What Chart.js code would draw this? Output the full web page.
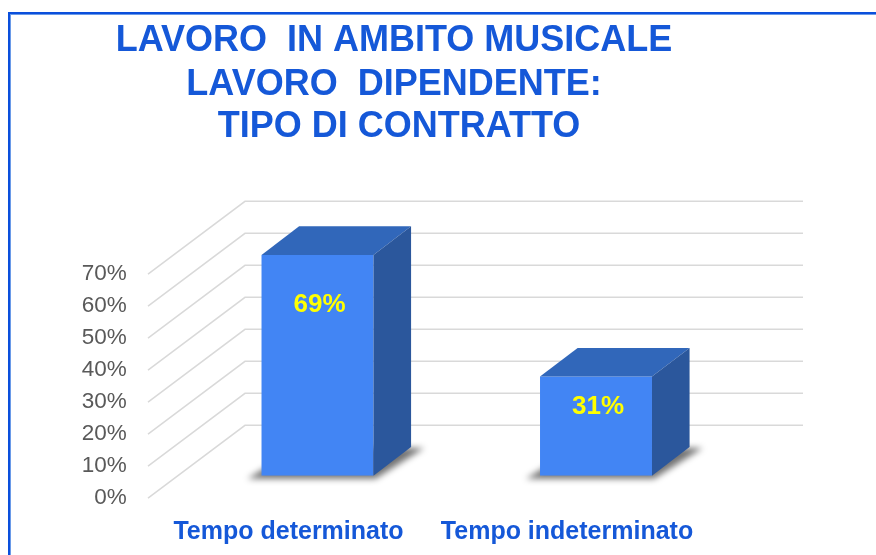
<!DOCTYPE html>
<html>
<head>
<meta charset="utf-8">
<script src="https://cdn.jsdelivr.net/npm/chart.js@4/dist/chart.umd.min.js"></script>
<style>
html,body{margin:0;padding:0;background:#ffffff;}
#wrap{position:relative;width:876px;height:555px;overflow:hidden;background:#ffffff;}
#frame{position:absolute;left:8px;top:12px;width:900px;height:600px;border-top:2px solid #0a4fdc;border-left:2px solid #0a4fdc;box-shadow:inset 1px 1px 0 #6a9ae8;}
#c{position:absolute;left:0;top:0;}
</style>
</head>
<body>
<div id="wrap"><div id="frame"></div><canvas id="c" width="876" height="555"></canvas></div>
<script>
// ---- data ----
const titleLines = ['LAVORO  IN AMBITO MUSICALE', 'LAVORO  DIPENDENTE:', ' TIPO DI CONTRATTO'];
const categories = ['Tempo determinato', 'Tempo indeterminato'];
const values = [69, 31];
const yTicks = [0, 10, 20, 30, 40, 50, 60, 70];

// ---- style ----
const FONT = '"Liberation Sans", Arial, Helvetica, sans-serif';
const BLUE_TEXT = '#1558d8';
const FRONT_COL = '#4285f4';
const TOP_COL = '#3167ba';
const SIDE_COL = '#2b579c';
const GRID_COL = '#d9d9d9';
const DEPTH = {dx: 37.6, dy: -28.6};      // bar depth
const WALL = {front: 148, back0: 245, back1: 803, frontDy: 22.5, backDy: -50.4};
const LABEL_BASE_DY = [57, 37.5];

const threeD = {
  id: 'threeD',
  beforeDatasetsDraw(chart) {
    const ctx = chart.ctx;
    const ys = chart.scales.y;
    ctx.save();
    ctx.strokeStyle = GRID_COL;
    ctx.lineWidth = 1.5;
    yTicks.forEach(v => {
      const p = ys.getPixelForValue(v);
      ctx.beginPath();
      ctx.moveTo(WALL.front, p + WALL.frontDy);
      ctx.lineTo(WALL.back0, p + WALL.backDy);
      ctx.lineTo(WALL.back1, p + WALL.backDy);
      ctx.stroke();
    });
    // shadows
    const meta = chart.getDatasetMeta(0);
    meta.data.forEach(bar => {
      const L = bar.x - bar.width / 2, R = bar.x + bar.width / 2, b = bar.base;
      ctx.save();
      ctx.filter = 'blur(3px)';
      ctx.fillStyle = 'rgba(0,0,0,0.55)';
      ctx.beginPath();
      ctx.moveTo(L - 14, b + 3);
      ctx.lineTo(R + 2, b + 3);
      ctx.lineTo(R + DEPTH.dx + 13, b + DEPTH.dy + 1);
      ctx.lineTo(L + DEPTH.dx, b + DEPTH.dy);
      ctx.closePath();
      ctx.fill();
      ctx.restore();
    });
    ctx.restore();
  },
  afterDatasetsDraw(chart) {
    const ctx = chart.ctx;
    const meta = chart.getDatasetMeta(0);
    ctx.save();
    meta.data.forEach((bar, i) => {
      const L = bar.x - bar.width / 2, R = bar.x + bar.width / 2, t = bar.y, b = bar.base;
      // top face
      ctx.fillStyle = TOP_COL;
      ctx.beginPath();
      ctx.moveTo(L, t);
      ctx.lineTo(L + DEPTH.dx, t + DEPTH.dy);
      ctx.lineTo(R + DEPTH.dx, t + DEPTH.dy);
      ctx.lineTo(R, t);
      ctx.closePath();
      ctx.fill();
      // side face
      ctx.fillStyle = SIDE_COL;
      ctx.beginPath();
      ctx.moveTo(R, t);
      ctx.lineTo(R + DEPTH.dx, t + DEPTH.dy);
      ctx.lineTo(R + DEPTH.dx, b + DEPTH.dy);
      ctx.lineTo(R, b);
      ctx.closePath();
      ctx.fill();
      // value label
      ctx.fillStyle = '#ffff00';
      ctx.font = 'bold 26px ' + FONT;
      ctx.textAlign = 'center';
      ctx.textBaseline = 'alphabetic';
      ctx.fillText(values[i] + '%', bar.x + 2, t + LABEL_BASE_DY[i]);
    });
    ctx.restore();
  },
  afterDraw(chart) {
    const ctx = chart.ctx;
    ctx.save();
    ctx.fillStyle = BLUE_TEXT;
    ctx.font = 'bold 36px ' + FONT;
    ctx.textAlign = 'center';
    ctx.textBaseline = 'alphabetic';
    const baselines = [51, 95, 137];
    titleLines.forEach((s, i) => ctx.fillText(s, 394, baselines[i]));
    ctx.restore();
  }
};

new Chart(document.getElementById('c'), {
  type: 'bar',
  data: {
    labels: categories,
    datasets: [{
      data: values,
      backgroundColor: FRONT_COL,
      borderWidth: 0,
      barPercentage: 0.402,
      categoryPercentage: 1
    }]
  },
  options: {
    responsive: false,
    animation: false,
    devicePixelRatio: 1,
    layout: {padding: {left: 0, right: 140.75, top: 251.7, bottom: 0}},
    plugins: {legend: {display: false}, title: {display: false}, tooltip: {enabled: false}},
    scales: {
      x: {
        offset: true,
        afterFit(s) { s.height = 79.3; },
        grid: {display: false, drawTicks: false},
        border: {display: false},
        ticks: {
          labelOffset: -29,
          padding: 41.6,
          maxRotation: 0,
          autoSkip: false,
          color: BLUE_TEXT,
          font: {family: FONT, size: 25, weight: 'bold'}
        }
      },
      y: {
        min: 0,
        max: 70,
        afterFit(s) { s.width = 178.25; },
        afterBuildTicks(s) { s.ticks = yTicks.map(v => ({value: v})); },
        grid: {display: false, drawTicks: false},
        border: {display: false},
        ticks: {
          labelOffset: 22.5,
          padding: 51.5,
          color: '#595959',
          font: {family: FONT, size: 22.5},
          callback: v => v + '%'
        }
      }
    }
  },
  plugins: [threeD]
});
</script>
</body>
</html>
